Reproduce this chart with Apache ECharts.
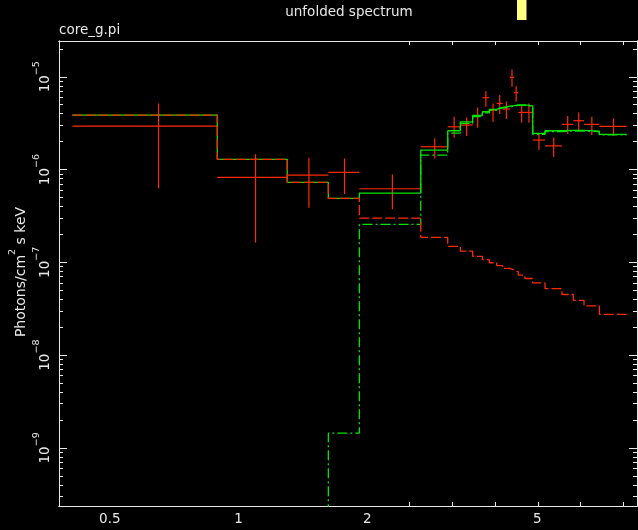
<!DOCTYPE html>
<html><head><meta charset="utf-8">
<script src="https://cdn.jsdelivr.net/npm/echarts@6/dist/echarts.min.js"></script>
<style>html,body{margin:0;padding:0;background:#000;}#c{width:638px;height:530px;}</style>
</head><body><div id="c"></div>
<script>
// ---- energy bins (keV) ----
const binLo = [0.4087,0.892,1.300,1.622,1.917,2.668,3.085,3.302,3.529,3.718,3.860,4.016,4.148,4.314,4.408,4.511,4.677,4.876,5.210,5.707,6.067,6.427,6.981];
const binHi = [0.892,1.300,1.622,1.917,2.668,3.085,3.302,3.529,3.718,3.860,4.016,4.148,4.314,4.408,4.511,4.677,4.876,5.210,5.707,6.067,6.427,6.981,8.088];
// ---- data points ----
const dataE    = [0.650,1.096,1.461,1.770,2.29,2.877,3.194,3.416,3.624,3.789,3.938,4.082,4.231,4.361,4.460,4.594,4.777,5.043,5.459,5.887,6.247,6.704,7.535];
const dataFlux = [2.94e-6,8.24e-7,8.73e-7,9.33e-7,6.21e-7,1.76e-6,2.89e-6,3.02e-6,3.80e-6,5.94e-6,4.37e-6,5.16e-6,4.49e-6,9.86e-6,6.73e-6,4.13e-6,4.13e-6,2.08e-6,1.80e-6,3.07e-6,3.36e-6,3.07e-6,2.92e-6];
const dataHi   = [5.16e-6,1.46e-6,1.34e-6,1.32e-6,8.87e-7,2.17e-6,3.71e-6,3.65e-6,4.67e-6,7.01e-6,5.16e-6,6.35e-6,5.43e-6,1.20e-5,7.94e-6,4.95e-6,5.16e-6,2.49e-6,2.22e-6,3.77e-6,4.13e-6,3.71e-6,3.56e-6];
const dataLo   = [6.27e-7,1.63e-7,3.87e-7,5.44e-7,3.73e-7,1.32e-6,2.20e-6,2.30e-6,2.82e-6,4.75e-6,3.27e-6,3.96e-6,3.50e-6,7.80e-6,5.38e-6,3.19e-6,3.19e-6,1.62e-6,1.37e-6,2.42e-6,2.67e-6,2.36e-6,2.30e-6];
// ---- model (per bin) ----
const modelTotal     = [3.87e-6,1.29e-6,7.28e-7,4.90e-7,5.58e-7,1.62e-6,2.62e-6,3.27e-6,3.84e-6,4.20e-6,4.46e-6,4.68e-6,4.83e-6,4.90e-6,4.99e-6,4.99e-6,4.87e-6,2.45e-6,2.62e-6,2.64e-6,2.64e-6,2.60e-6,2.39e-6];
const modelPowerlaw  = [3.87e-6,1.29e-6,7.28e-7,4.89e-7,2.99e-7,1.86e-7,1.49e-7,1.32e-7,1.16e-7,1.07e-7,9.9e-8,9.2e-8,8.6e-8,8.3e-8,7.9e-8,7.3e-8,6.7e-8,6.0e-8,5.2e-8,4.5e-8,3.9e-8,3.4e-8,2.75e-8];
const modelLineComp  = [0,0,0,1.44e-9,2.56e-7,1.43e-6,2.47e-6,3.14e-6,3.72e-6,4.09e-6,4.36e-6,4.59e-6,4.74e-6,4.82e-6,4.91e-6,4.92e-6,4.80e-6,2.39e-6,2.57e-6,2.60e-6,2.60e-6,2.57e-6,2.36e-6];
// ---- axes ----
const xRange = [0.3803, 8.55];
const yRange = [2.366e-10, 2.43e-5];
const xMajorTicks = [1];
const xMinorTicks = [0.4,0.5,0.6,0.7,0.8,0.9,2,3,4,5,6,7,8];
const xLabelValues = [0.5,1,2,5];
const xTickLabels = ['0.5','1','2','5'];
const yDecades = [-9,-8,-7,-6,-5];

const L = v => v > 0 ? Math.log10(v) : -12;
const xMin = Math.log10(xRange[0]), xMax = Math.log10(xRange[1]);
const yMin = Math.log10(yRange[0]), yMax = Math.log10(yRange[1]);
const yMinor = [];
for (let d = -10; d <= -5; d++) for (let k = 2; k <= 9; k++) { const v = d + Math.log10(k); if (v > yMin && v < yMax) yMinor.push(v); }

const AX = '#e8e8e8', RED = '#ff2a00', GREEN = '#00e400';
const FONT = 'DejaVu Sans';

function steps(vals) {
  const pts = [];
  for (let i = 0; i < vals.length; i++) {
    pts.push([Math.log10(binLo[i]), L(vals[i])]);
    pts.push([Math.log10(binHi[i]), L(vals[i])]);
  }
  return pts;
}
function xAx(pos, ticks, len, label) {
  return { type:'value', position:pos, min:xMin, max:xMax, scale:true,
    axisLine:{show:true, onZero:false, lineStyle:{color:AX, width:1}},
    axisTick:{show:true, inside:true, length:len, customValues:ticks, lineStyle:{color:AX, width:1}},
    axisLabel: label ? {show:true, customValues:xLabelValues.map(Math.log10), margin:6, color:AX, fontFamily:FONT, fontSize:13.5,
      formatter: v => { let b=0; xLabelValues.forEach((e,i)=>{ if (Math.abs(Math.log10(e)-v) < Math.abs(Math.log10(xLabelValues[b])-v)) b=i; }); return xTickLabels[b]; } } : {show:false},
    splitLine:{show:false} };
}
function yAx(pos, ticks, len, label) {
  return { type:'value', position:pos, min:yMin, max:yMax, scale:true,
    axisLine:{show:true, onZero:false, lineStyle:{color:AX, width:1}},
    axisTick:{show:true, inside:true, length:len, customValues:ticks, lineStyle:{color:AX, width:1}},
    axisLabel: label ? {show:true, customValues:yDecades, rotate:90, margin:7, color:AX, fontFamily:FONT,
      formatter: v => '{b|10}{s|\u2212' + Math.abs(Math.round(v)) + '}',
      rich:{ b:{fontSize:13.5, fontFamily:FONT, color:AX, verticalAlign:'bottom', lineHeight:20}, s:{fontSize:9.5, fontFamily:FONT, color:AX, verticalAlign:'top', lineHeight:20} } } : {show:false},
    splitLine:{show:false} };
}

const crossData = dataE.map((e,i) => [Math.log10(e), Math.log10(dataFlux[i]), Math.log10(binLo[i]), Math.log10(binHi[i]), Math.log10(dataLo[i]), Math.log10(dataHi[i])]);

const chart = echarts.init(document.getElementById('c'), null, {renderer:'canvas'});
chart.setOption({
  backgroundColor:'#000', animation:false,
  grid:{left:59, right:1, top:41, bottom:24, containLabel:false, outerBoundsMode:'none'},
  xAxis:[ xAx('bottom', xMajorTicks, 8, true), xAx('bottom', xMinorTicks, 4, false), xAx('top', xMajorTicks, 8, false), xAx('top', xMinorTicks, 4, false) ],
  yAxis:[ yAx('left', yDecades, 8, true), yAx('left', yMinor, 4, false), yAx('right', yDecades, 8, false), yAx('right', yMinor, 4, false) ],
  graphic:[
    {type:'text', x:349, y:12, style:{text:'unfolded spectrum', fill:AX, font:'13.5px "DejaVu Sans"', textAlign:'center', textVerticalAlign:'middle'}},
    {type:'text', x:59, y:30, style:{text:'core_g.pi', fill:AX, font:'13.5px "DejaVu Sans"', textAlign:'left', textVerticalAlign:'middle'}},
    {type:'text', x:18, y:272, rotation:Math.PI/2, style:{text:'{a|Photons/cm}{s|2}{a| s keV}', fill:AX, textAlign:'center', textVerticalAlign:'middle',
      rich:{a:{fontSize:14, fontFamily:FONT, fill:AX, color:AX, verticalAlign:'bottom', lineHeight:20}, s:{fontSize:9.5, fontFamily:FONT, fill:AX, color:AX, verticalAlign:'top', lineHeight:20}}}},
    {type:'rect', shape:{x:517, y:0, width:9.5, height:20}, style:{fill:'#ffff80'}}
  ],
  series:[
    {type:'line', name:'total', xAxisIndex:0, yAxisIndex:0, data:steps(modelTotal), showSymbol:false, silent:true, lineStyle:{color:GREEN, width:1.3}},
    {type:'line', name:'comp2', xAxisIndex:0, yAxisIndex:0, data:steps(modelLineComp), showSymbol:false, silent:true, lineStyle:{color:GREEN, width:1.3, type:[10,3,2,3]}},
    {type:'line', name:'powerlaw', xAxisIndex:0, yAxisIndex:0, data:steps(modelPowerlaw), showSymbol:false, silent:true, lineStyle:{color:RED, width:1.3, type:[10,3]}},
    {type:'custom', name:'data', xAxisIndex:0, yAxisIndex:0, data:crossData, silent:true, encode:{x:0, y:1},
      renderItem:(params, api) => {
        const y = api.value(1), xc = api.value(0);
        const a = api.coord([api.value(2), y]), b = api.coord([api.value(3), y]);
        const c = api.coord([xc, api.value(4)]), d = api.coord([xc, api.value(5)]);
        return {type:'group', children:[
          {type:'line', shape:{x1:a[0], y1:a[1], x2:b[0], y2:b[1]}, style:{stroke:RED, lineWidth:1.2}},
          {type:'line', shape:{x1:c[0], y1:c[1], x2:d[0], y2:d[1]}, style:{stroke:RED, lineWidth:1.2}}
        ]};
      }}
  ]
});
</script></body></html>
